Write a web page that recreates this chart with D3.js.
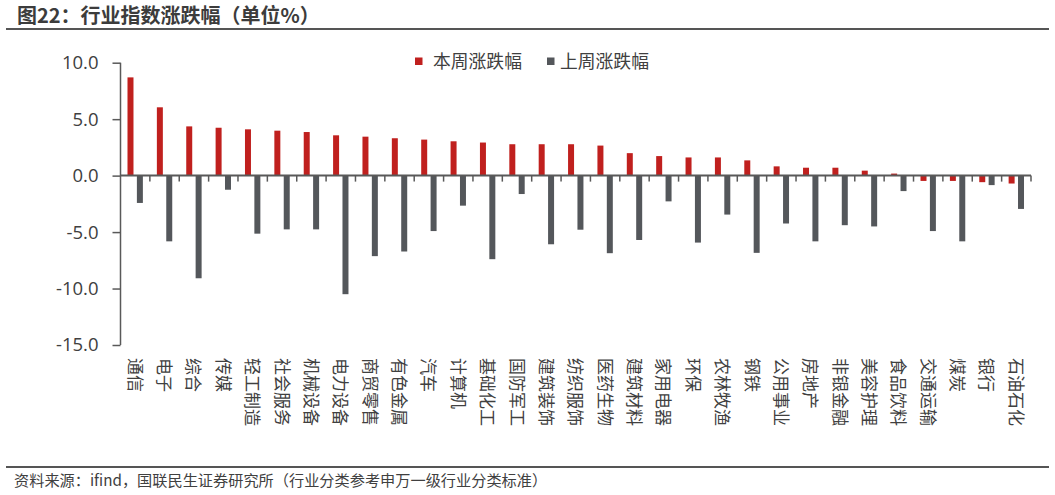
<!DOCTYPE html>
<html><head><meta charset="utf-8">
<script src="https://cdn.jsdelivr.net/npm/d3@7/dist/d3.min.js"></script>
<style>
body{margin:0;background:#fff;}
svg{display:block;font-family:"Open Sans","Noto Sans CJK SC",sans-serif;}
</style></head>
<body><svg id="c" width="1055" height="495"></svg>
<script>
const categories = ["通信","电子","综合","传媒","轻工制造","社会服务","机械设备","电力设备","商贸零售","有色金属","汽车","计算机","基础化工","国防军工","建筑装饰","纺织服饰","医药生物","建筑材料","家用电器","环保","农林牧渔","钢铁","公用事业","房地产","非银金融","美容护理","食品饮料","交通运输","煤炭","银行","石油石化"];
const thisWeek = [8.7,6.05,4.36,4.24,4.1,3.98,3.86,3.57,3.45,3.31,3.19,3.04,2.93,2.78,2.78,2.78,2.66,1.99,1.73,1.61,1.61,1.35,0.82,0.7,0.7,0.44,0.18,-0.47,-0.47,-0.58,-0.7];
const lastWeek = [-2.42,-5.82,-9.09,-1.25,-5.14,-4.76,-4.76,-10.5,-7.13,-6.72,-4.91,-2.66,-7.4,-1.63,-6.08,-4.79,-6.87,-5.7,-2.28,-5.93,-3.45,-6.84,-4.24,-5.82,-4.39,-4.5,-1.37,-4.91,-5.82,-0.84,-2.95];
const seriesNames = ["本周涨跌幅","上周涨跌幅"];
const yTicks = [10,5,0,-5,-10,-15];
const titleText = "图22：行业指数涨跌幅（单位%）";
const sourceText = "资料来源：ifind，国联民生证券研究所（行业分类参考申万一级行业分类标准）";

const colors = ["#C0201E","#54575B"];
const axisColor = "#595959";
const textColor = "#404040";

const svg = d3.select("#c");

// title and rules
svg.append("text").attr("x",17).attr("y",23).attr("font-size",20).attr("font-weight","bold")
  .attr("fill","#3c3c3c").attr("font-family","'Noto Sans CJK SC',sans-serif").text(titleText);
svg.append("line").attr("x1",6).attr("x2",1049).attr("y1",29).attr("y2",29).attr("stroke","#555").attr("stroke-width",2);
svg.append("line").attr("x1",6).attr("x2",1049).attr("y1",467).attr("y2",467).attr("stroke","#555").attr("stroke-width",2);
svg.append("text").attr("x",14).attr("y",486).attr("font-size",15.2).attr("fill",textColor)
  .attr("font-family","'Noto Sans CJK SC',sans-serif").text(sourceText);

const x = d3.scaleBand().domain(categories).range([120.5,1031]).paddingInner(0).paddingOuter(0);
const x1 = d3.scaleBand().domain(seriesNames).range([0,x.bandwidth()]).paddingInner(0.362).paddingOuter(0.745);
const y = d3.scaleLinear().domain([-15,10]).range([345,62.7]);

// bars
const rows = categories.map((c,i)=>({c, vals:[thisWeek[i],lastWeek[i]]}));
const g = svg.append("g");
rows.forEach(r=>{
  r.vals.forEach((v,k)=>{
    g.append("rect")
      .attr("x", x(r.c)+x1(seriesNames[k]))
      .attr("width", x1.bandwidth())
      .attr("y", y(Math.max(0,v)))
      .attr("height", Math.abs(y(v)-y(0)))
      .attr("fill", colors[k]);
  });
});

// y axis
const yAxis = d3.axisLeft(y).tickValues(yTicks).tickSize(8).tickPadding(14).tickFormat(d=>d.toFixed(1));
const ya = svg.append("g").attr("transform","translate(120.5,0)").call(yAxis);
ya.select(".domain").attr("stroke",axisColor).attr("stroke-width",1.5).attr("d","M0,62.7V345");
ya.selectAll(".tick line").attr("stroke",axisColor).attr("stroke-width",1.5);
ya.selectAll(".tick text").attr("fill",textColor).attr("font-size",18.5).attr("font-family","'Open Sans',sans-serif");

// x axis at zero
const xa = svg.append("g");
xa.append("line").attr("x1",x.range()[0]).attr("x2",x.range()[1]).attr("y1",y(0)).attr("y2",y(0))
  .attr("stroke",axisColor).attr("stroke-width",2);
const bounds = categories.map(c=>x(c)+x.bandwidth());
xa.selectAll("line.t").data(bounds).enter().append("line").attr("class","t")
  .attr("x1",d=>d).attr("x2",d=>d).attr("y1",y(0)).attr("y2",y(0)+6)
  .attr("stroke",axisColor).attr("stroke-width",1.5);

// category labels (rotated)
svg.append("g").selectAll("text").data(categories).enter().append("text")
  .attr("transform",d=>`translate(${x(d)+x.bandwidth()/2},358) rotate(90)`)
  .attr("dy","0.38em").attr("text-anchor","start")
  .attr("font-size",17).attr("fill",textColor).attr("font-family","'Noto Sans CJK SC',sans-serif")
  .text(d=>d);

// legend
const leg = svg.append("g");
const legX = [415, 547];
seriesNames.forEach((n,k)=>{
  leg.append("rect").attr("x",legX[k]).attr("y",57.5).attr("width",7.5).attr("height",7.5).attr("fill",colors[k]);
  leg.append("text").attr("x",legX[k]+18-(k?5:0)).attr("y",67.5).attr("font-size",17.8).attr("fill",textColor)
    .attr("font-family","'Noto Sans CJK SC',sans-serif").text(n);
});
</script></body></html>
